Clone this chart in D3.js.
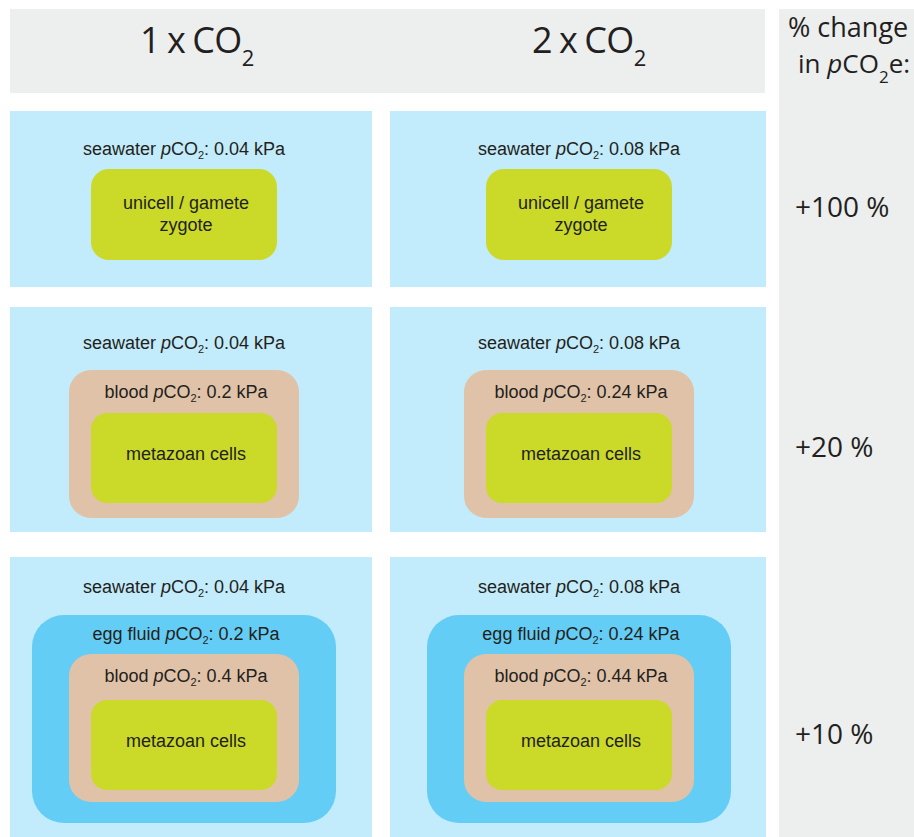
<!DOCTYPE html>
<html>
<head>
<meta charset="utf-8">
<script src="https://cdn.jsdelivr.net/npm/d3@7"></script>
<style>
  body { margin: 0; background: #fff; }
  text { fill: #231f20; }
</style>
</head>
<body>
<div id="chart"></div>
<script>
// values
var columns = ["1 x CO", "2 x CO"];
var rows = ["unicell", "metazoan", "egg"];
var seawater = [0.04, 0.08];
var bloodMetazoan = [0.2, 0.24];
var eggFluid = [0.2, 0.24];
var bloodEgg = [0.4, 0.44];
var cellNames = [["unicell / gamete", "zygote"], ["metazoan cells"], ["metazoan cells"]];
var changes = ["+100 %", "+20 %", "+10 %"];

var width = 914;
var height = 837;

var colors = {
  header: "#edeeee",
  sea: "#c2ebfb",
  egg: "#63cdf5",
  blood: "#e0c2a8",
  cell: "#cbd928"
};

var svg = d3.select("#chart")
  .append("svg")
  .attr("width", width)
  .attr("height", height);

// column geometry
var cx = d3.scaleOrdinal().domain(columns).range([184, 579]);
var panelX = d3.scaleOrdinal().domain(columns).range([10, 390]);
var panelW = d3.scaleOrdinal().domain(columns).range([362, 376]);
var titleX = d3.scaleOrdinal().domain(columns).range([197, 589]);

// row geometry
var rowY = d3.scaleOrdinal().domain(rows).range([111, 307, 557]);
var rowH = d3.scaleOrdinal().domain(rows).range([176, 225, 280]);
var seaLabelY = d3.scaleOrdinal().domain(rows).range([155, 349, 593]);
var changeY = d3.scaleOrdinal().domain(rows).range([217, 457, 744]);

// nested boxes, outer to inner
var nests = {
  unicell: [
    { kind: "cell", w: 186, y: 169, h: 91, r: 18 }
  ],
  metazoan: [
    { kind: "blood", w: 230, y: 370, h: 148, r: 22, values: bloodMetazoan, label: "blood" },
    { kind: "cell", w: 186, y: 413, h: 90, r: 16 }
  ],
  egg: [
    { kind: "egg", w: 304, y: 615, h: 208, r: 32, values: eggFluid, label: "egg fluid" },
    { kind: "blood", w: 230, y: 654, h: 148, r: 22, values: bloodEgg, label: "blood" },
    { kind: "cell", w: 186, y: 700, h: 90, r: 16 }
  ]
};

function pco2Label(sel, x, y, prefix, value) {
  var t = sel.append("text")
    .attr("x", x)
    .attr("y", y)
    .attr("text-anchor", "middle")
    .style("font-family", "'Liberation Sans', Arial, sans-serif")
    .style("font-size", "18px");
  t.append("tspan").text(prefix + " ");
  t.append("tspan").style("font-style", "italic").text("p");
  t.append("tspan").text("CO");
  t.append("tspan").attr("dy", 4).style("font-size", "11px").text("2");
  t.append("tspan").attr("dy", -4).text(": " + value + " kPa");
}

// header band
svg.append("rect")
  .attr("x", 10).attr("y", 9)
  .attr("width", 755).attr("height", 84)
  .attr("fill", colors.header);

columns.forEach(function (c) {
  var t = svg.append("text")
    .attr("x", titleX(c))
    .attr("y", 53)
    .attr("text-anchor", "middle")
    .style("font-family", "'Open Sans', sans-serif")
    .style("font-size", "36px")
    .style("letter-spacing", "-0.5px")
    .style("word-spacing", "-2px");
  t.append("tspan").text(c);
  t.append("tspan").attr("dy", 13).style("font-size", "22px").text("2");
});

// right column
svg.append("rect")
  .attr("x", 779).attr("y", 9)
  .attr("width", 135).attr("height", 828)
  .attr("fill", colors.header);

svg.append("text")
  .attr("x", 788).attr("y", 37)
  .style("font-family", "'Open Sans', sans-serif")
  .style("font-size", "27px")
  .text("% change");

var h2 = svg.append("text")
  .attr("x", 798).attr("y", 73)
  .style("font-family", "'Open Sans', sans-serif")
  .style("font-size", "26px");
h2.append("tspan").text("in ");
h2.append("tspan").style("font-style", "italic").text("p");
h2.append("tspan").text("CO");
h2.append("tspan").attr("dy", 10).style("font-size", "17px").text("2");
h2.append("tspan").attr("dy", -10).text("e:");

rows.forEach(function (r, ri) {
  columns.forEach(function (c, ci) {
    var g = svg.append("g");
    g.append("rect")
      .attr("x", panelX(c))
      .attr("y", rowY(r))
      .attr("width", panelW(c))
      .attr("height", Math.min(rowH(r), height - rowY(r)))
      .attr("fill", colors.sea);

    pco2Label(g, cx(c), seaLabelY(r), "seawater", seawater[ci]);

    nests[r].forEach(function (b) {
      g.append("rect")
        .attr("x", cx(c) - b.w / 2)
        .attr("y", b.y)
        .attr("width", b.w)
        .attr("height", b.h)
        .attr("rx", b.r)
        .attr("fill", colors[b.kind]);

      if (b.kind === "cell") {
        var lines = cellNames[ri];
        var mid = b.y + b.h / 2 - (lines.length === 1 ? 4 : 1);
        lines.forEach(function (line, li) {
          g.append("text")
            .attr("x", cx(c) + 2)
            .attr("y", mid + 6 + (li - (lines.length - 1) / 2) * 22)
            .attr("text-anchor", "middle")
            .style("font-family", "'Liberation Sans', Arial, sans-serif")
            .style("font-size", "18px")
            .text(line);
        });
      } else {
        pco2Label(g, cx(c) + 2, b.y + (b.kind === "egg" ? 25 : 28), b.label, b.values[ci]);
      }
    });
  });

  svg.append("text")
    .attr("x", 795)
    .attr("y", changeY(r))
    .style("font-family", "'Open Sans', sans-serif")
    .style("font-size", "28px")
    .text(changes[ri]);
});
</script>
</body>
</html>
